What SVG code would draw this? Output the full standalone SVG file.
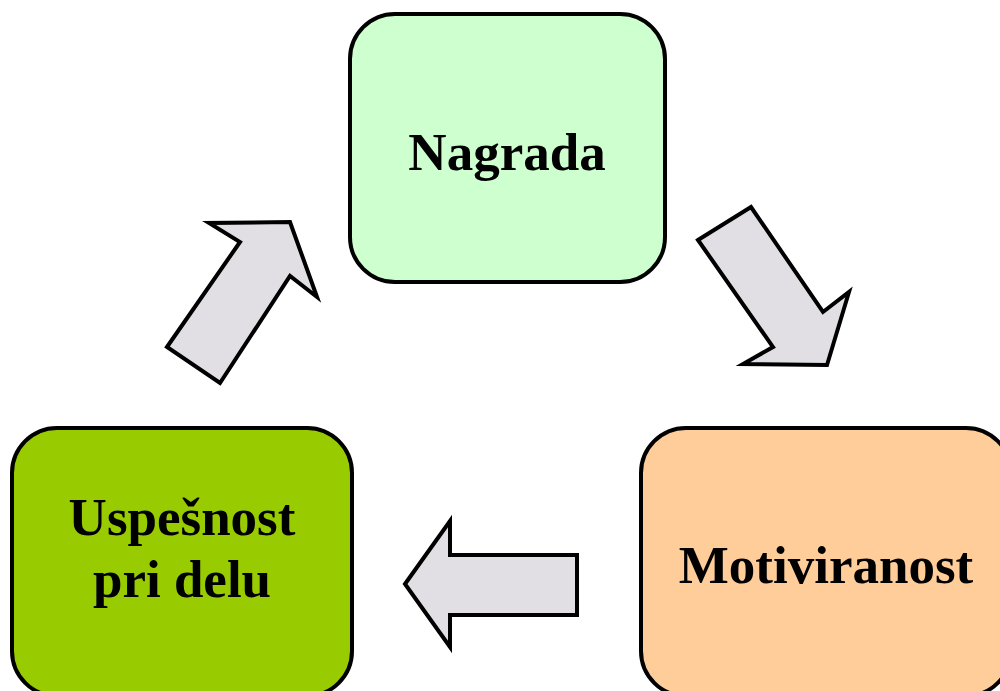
<svg xmlns="http://www.w3.org/2000/svg" width="1000" height="691" viewBox="0 0 1000 691">
<style>
.box{stroke:#000;stroke-width:4}
.lbl{font-family:"Liberation Serif","Times New Roman",serif;font-weight:bold;font-size:53px;fill:#000;text-anchor:middle}
.arr{fill:#e1dfe4;stroke:#000;stroke-width:4;stroke-linejoin:miter}
</style>
<rect width="1000" height="691" fill="#fff"/>
<g id="connectors">
<polygon class="arr" points="167,347 240,242 209,223 290,222 317,297 290,276 220,383"/>
<polygon class="arr" points="698,240 751,207 823,312 849,292 827,365 743,364 773,347"/>
<polygon class="arr" points="405,584 450,521 450,555 577,555 577,615 450,615 450,647"/>
</g>
<g id="nagrada">
<rect class="box" x="350" y="14" width="315" height="268" rx="45" fill="#ceffce"/>
<text class="lbl" x="507" y="170">Nagrada</text>
</g>
<g id="motiviranost">
<rect class="box" x="641" y="428" width="370" height="268" rx="45" fill="#ffcd99"/>
<text class="lbl" x="826" y="583">Motiviranost</text>
</g>
<g id="uspesnost">
<rect class="box" x="12" y="428" width="340" height="268" rx="45" fill="#99cc00"/>
<text class="lbl" x="182" y="535">Uspešnost</text>
<text class="lbl" x="182" y="597">pri delu</text>
</g>
</svg>
